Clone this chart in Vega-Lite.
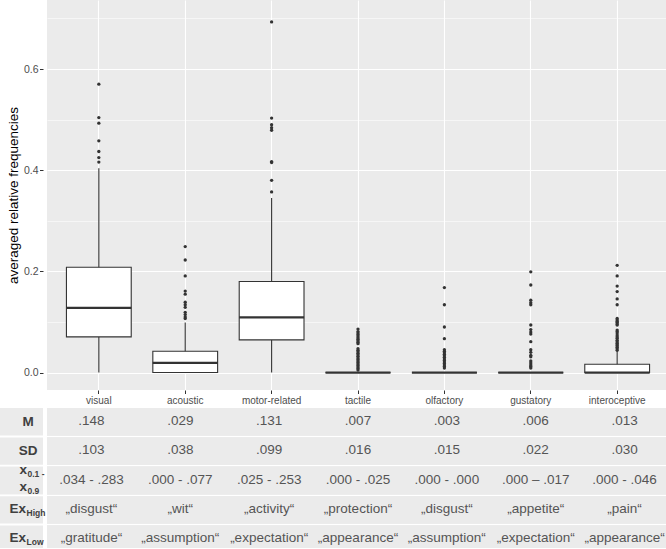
{
  "$schema": "https://vega.github.io/schema/vega-lite/v6.json",
  "padding": 0,
  "background": "white",
  "config": {"view": {"stroke": null}, "font": "Liberation Sans"},
  "datasets": {
    "stats": [
      {"category": "visual", "lo": 0, "q1": 0.0705, "med": 0.1277, "q3": 0.208, "hi": 0.404},
      {"category": "acoustic", "lo": 0, "q1": 0, "med": 0.019, "q3": 0.042, "hi": 0.099},
      {"category": "motor-related", "lo": 0, "q1": 0.0645, "med": 0.109, "q3": 0.18, "hi": 0.345},
      {"category": "tactile", "lo": 0, "q1": 0, "med": 0, "q3": 0, "hi": 0},
      {"category": "olfactory", "lo": 0, "q1": 0, "med": 0, "q3": 0, "hi": 0},
      {"category": "gustatory", "lo": 0, "q1": 0, "med": 0, "q3": 0, "hi": 0},
      {"category": "interoceptive", "lo": 0, "q1": 0, "med": 0, "q3": 0.0165, "hi": 0.042}
    ],
    "outliers": [
      {"category": "visual", "value": 0.57}, {"category": "visual", "value": 0.504}, {"category": "visual", "value": 0.493},
      {"category": "visual", "value": 0.458}, {"category": "visual", "value": 0.437}, {"category": "visual", "value": 0.425},
      {"category": "visual", "value": 0.416},
      {"category": "acoustic", "value": 0.249}, {"category": "acoustic", "value": 0.2225}, {"category": "acoustic", "value": 0.191},
      {"category": "acoustic", "value": 0.161}, {"category": "acoustic", "value": 0.155}, {"category": "acoustic", "value": 0.139},
      {"category": "acoustic", "value": 0.134}, {"category": "acoustic", "value": 0.129}, {"category": "acoustic", "value": 0.119},
      {"category": "acoustic", "value": 0.1145}, {"category": "acoustic", "value": 0.11}, {"category": "acoustic", "value": 0.1066},
      {"category": "motor-related", "value": 0.693}, {"category": "motor-related", "value": 0.503}, {"category": "motor-related", "value": 0.49},
      {"category": "motor-related", "value": 0.484}, {"category": "motor-related", "value": 0.479}, {"category": "motor-related", "value": 0.417},
      {"category": "motor-related", "value": 0.415}, {"category": "motor-related", "value": 0.38}, {"category": "motor-related", "value": 0.357},
      {"category": "tactile", "value": 0.086}, {"category": "tactile", "value": 0.081}, {"category": "tactile", "value": 0.078},
      {"category": "tactile", "value": 0.075}, {"category": "tactile", "value": 0.072}, {"category": "tactile", "value": 0.069},
      {"category": "tactile", "value": 0.066}, {"category": "tactile", "value": 0.063}, {"category": "tactile", "value": 0.06},
      {"category": "tactile", "value": 0.057}, {"category": "tactile", "value": 0.047}, {"category": "tactile", "value": 0.044},
      {"category": "tactile", "value": 0.041}, {"category": "tactile", "value": 0.038}, {"category": "tactile", "value": 0.035},
      {"category": "tactile", "value": 0.032}, {"category": "tactile", "value": 0.029}, {"category": "tactile", "value": 0.026},
      {"category": "tactile", "value": 0.023}, {"category": "tactile", "value": 0.02}, {"category": "tactile", "value": 0.017},
      {"category": "tactile", "value": 0.014}, {"category": "tactile", "value": 0.011}, {"category": "tactile", "value": 0.008},
      {"category": "tactile", "value": 0.005},
      {"category": "olfactory", "value": 0.168}, {"category": "olfactory", "value": 0.134}, {"category": "olfactory", "value": 0.09},
      {"category": "olfactory", "value": 0.067}, {"category": "olfactory", "value": 0.045}, {"category": "olfactory", "value": 0.042},
      {"category": "olfactory", "value": 0.039}, {"category": "olfactory", "value": 0.036}, {"category": "olfactory", "value": 0.033},
      {"category": "olfactory", "value": 0.03}, {"category": "olfactory", "value": 0.027}, {"category": "olfactory", "value": 0.024},
      {"category": "olfactory", "value": 0.021}, {"category": "olfactory", "value": 0.018}, {"category": "olfactory", "value": 0.015},
      {"category": "olfactory", "value": 0.012}, {"category": "olfactory", "value": 0.009},
      {"category": "gustatory", "value": 0.199}, {"category": "gustatory", "value": 0.173}, {"category": "gustatory", "value": 0.143},
      {"category": "gustatory", "value": 0.138}, {"category": "gustatory", "value": 0.134}, {"category": "gustatory", "value": 0.094},
      {"category": "gustatory", "value": 0.085}, {"category": "gustatory", "value": 0.08}, {"category": "gustatory", "value": 0.076},
      {"category": "gustatory", "value": 0.061}, {"category": "gustatory", "value": 0.045}, {"category": "gustatory", "value": 0.04},
      {"category": "gustatory", "value": 0.034}, {"category": "gustatory", "value": 0.031}, {"category": "gustatory", "value": 0.023},
      {"category": "gustatory", "value": 0.019}, {"category": "gustatory", "value": 0.015}, {"category": "gustatory", "value": 0.012},
      {"category": "gustatory", "value": 0.009},
      {"category": "interoceptive", "value": 0.212}, {"category": "interoceptive", "value": 0.191}, {"category": "interoceptive", "value": 0.171},
      {"category": "interoceptive", "value": 0.16}, {"category": "interoceptive", "value": 0.1455}, {"category": "interoceptive", "value": 0.134},
      {"category": "interoceptive", "value": 0.107}, {"category": "interoceptive", "value": 0.104}, {"category": "interoceptive", "value": 0.101},
      {"category": "interoceptive", "value": 0.099}, {"category": "interoceptive", "value": 0.096}, {"category": "interoceptive", "value": 0.094},
      {"category": "interoceptive", "value": 0.084}, {"category": "interoceptive", "value": 0.081}, {"category": "interoceptive", "value": 0.078},
      {"category": "interoceptive", "value": 0.074}, {"category": "interoceptive", "value": 0.071}, {"category": "interoceptive", "value": 0.068},
      {"category": "interoceptive", "value": 0.064}, {"category": "interoceptive", "value": 0.061}, {"category": "interoceptive", "value": 0.058},
      {"category": "interoceptive", "value": 0.055}, {"category": "interoceptive", "value": 0.053}, {"category": "interoceptive", "value": 0.05},
      {"category": "interoceptive", "value": 0.047}, {"category": "interoceptive", "value": 0.044}
    ],
    "table": [
      {"category": "visual", "M": ".148", "SD": ".103", "x": ".034 - .283", "ExHigh": "„disgust“", "ExLow": "„gratitude“"},
      {"category": "acoustic", "M": ".029", "SD": ".038", "x": ".000 - .077", "ExHigh": "„wit“", "ExLow": "„assumption“"},
      {"category": "motor-related", "M": ".131", "SD": ".099", "x": ".025 - .253", "ExHigh": "„activity“", "ExLow": "„expectation“"},
      {"category": "tactile", "M": ".007", "SD": ".016", "x": ".000 - .025", "ExHigh": "„protection“", "ExLow": "„appearance“"},
      {"category": "olfactory", "M": ".003", "SD": ".015", "x": ".000 - .000", "ExHigh": "„disgust“", "ExLow": "„assumption“"},
      {"category": "gustatory", "M": ".006", "SD": ".022", "x": ".000 – .017", "ExHigh": "„appetite“", "ExLow": "„expectation“"},
      {"category": "interoceptive", "M": ".013", "SD": ".030", "x": ".000 - .046", "ExHigh": "„pain“", "ExLow": "„appearance“"}
    ],
    "labels": [
      {"row": "M", "main": "M", "sub": "", "line": 0},
      {"row": "SD", "main": "SD", "sub": "", "line": 0},
      {"row": "x", "main": "x", "sub": "0.1 -", "line": 1},
      {"row": "x", "main": "x", "sub": "0.9", "line": 2},
      {"row": "ExHigh", "main": "Ex", "sub": "High", "line": 0},
      {"row": "ExLow", "main": "Ex", "sub": "Low", "line": 0}
    ]
  },
  "columns": 2,
  "align": "each",
  "spacing": {"row": 3, "column": 1},
  "concat": [
    {
      "width": 43,
      "height": 390,
      "data": {"name": "stats"},
      "mark": {"type": "point", "opacity": 0},
      "encoding": {
        "y": {
          "field": "hi", "type": "quantitative",
          "scale": {"domain": [-0.0345, 0.7364], "nice": false, "zero": false},
          "axis": {
            "orient": "left", "offset": -43,
            "title": "averaged relative frequencies", "titleFontSize": 13.5, "titleFontWeight": "normal",
            "titleColor": "black", "titleFont": "Liberation Sans", "titlePadding": 3,
            "values": [0, 0.2, 0.4, 0.6], "format": ".1f",
            "labelFontSize": 10.5, "labelColor": "#4D4D4D", "labelFont": "Liberation Sans", "labelPadding": 1.5,
            "tickColor": "#333333", "tickSize": 3.5, "tickWidth": 1,
            "domain": false, "grid": false
          }
        }
      }
    },
    {
      "width": 622,
      "height": 390,
      "view": {"fill": "#EBEBEB", "stroke": null},
      "encoding": {
        "x": {
          "field": "category", "type": "nominal",
          "scale": {"domain": ["visual", "acoustic", "motor-related", "tactile", "olfactory", "gustatory", "interoceptive"], "paddingInner": 0, "paddingOuter": 0.1},
          "axis": {
            "title": null, "labelAngle": 0, "labelFontSize": 10, "labelColor": "#4D4D4D", "labelFont": "Liberation Sans",
            "tickColor": "#333333", "tickSize": 3.5, "tickWidth": 1, "labelPadding": 1.5,
            "domain": false, "grid": true, "gridColor": "white", "gridWidth": 1.1, "bandPosition": 0.5
          }
        }
      },
      "layer": [
        {
          "data": {"name": "stats"},
          "mark": {"type": "rule", "color": "#333333", "strokeWidth": 1.1},
          "encoding": {
            "y": {
              "field": "lo", "type": "quantitative", "title": null,
              "scale": {"domain": [-0.0345, 0.7364], "nice": false, "zero": false},
              "axis": {
                "title": null, "values": [0, 0.1, 0.2, 0.3, 0.4, 0.5, 0.6, 0.7],
                "labels": false, "ticks": false, "domain": false, "grid": true, "gridColor": "white",
                "gridWidth": {"condition": {"test": "round(datum.value*10) % 2 === 1", "value": 0.55}, "value": 1.1}
              }
            },
            "y2": {"field": "hi"}
          }
        },
        {
          "data": {"name": "stats"},
          "mark": {"type": "bar", "fill": "white", "stroke": "#333333", "strokeWidth": 1.1, "width": {"band": 0.75}},
          "encoding": {
            "y": {"field": "q1", "type": "quantitative", "title": null},
            "y2": {"field": "q3"}
          }
        },
        {
          "data": {"name": "stats"},
          "mark": {"type": "tick", "color": "#333333", "thickness": 2.2, "size": 65, "opacity": 1},
          "encoding": {
            "y": {"field": "med", "type": "quantitative", "title": null}
          }
        },
        {
          "data": {"name": "outliers"},
          "mark": {"type": "point", "filled": true, "color": "#333333", "size": 11, "opacity": 1},
          "encoding": {
            "y": {"field": "value", "type": "quantitative", "title": null}
          }
        }
      ]
    },
    {
      "width": 43,
      "height": 140,
      "data": {"name": "labels"},
      "encoding": {
        "y": {
          "field": "row", "type": "nominal",
          "scale": {"domain": ["M", "SD", "x", "ExHigh", "ExLow"], "range": [0, 145], "paddingInner": 0.0667, "paddingOuter": 0},
          "axis": null
        }
      },
      "layer": [
        {"mark": {"type": "rect", "color": "#EBEBEB", "clip": true}},
        {
          "transform": [{"filter": "datum.sub === ''"}],
          "mark": {"type": "text", "fontWeight": "bold", "fontSize": 13.5, "color": "#404040", "align": "center", "baseline": "middle", "dx": 6.5},
          "encoding": {"text": {"field": "main"}}
        },
        {
          "transform": [{"filter": "datum.line === 0 && datum.sub !== ''"}],
          "mark": {"type": "text", "fontWeight": "bold", "fontSize": 13.5, "color": "#404040", "align": "right", "baseline": "middle", "dx": 4.5, "dy": -1},
          "encoding": {"text": {"field": "main"}}
        },
        {
          "transform": [{"filter": "datum.line === 0 && datum.sub !== ''"}],
          "mark": {"type": "text", "fontWeight": "bold", "fontSize": 8.5, "color": "#404040", "align": "left", "baseline": "middle", "dx": 5, "dy": 3},
          "encoding": {"text": {"field": "sub"}}
        },
        {
          "transform": [{"filter": "datum.line === 1"}],
          "mark": {"type": "text", "fontWeight": "bold", "fontSize": 13.5, "color": "#404040", "align": "right", "baseline": "middle", "dx": 5.5, "dy": -11},
          "encoding": {"text": {"field": "main"}}
        },
        {
          "transform": [{"filter": "datum.line === 1"}],
          "mark": {"type": "text", "fontWeight": "bold", "fontSize": 8.5, "color": "#404040", "align": "left", "baseline": "middle", "dx": 6, "dy": -7},
          "encoding": {"text": {"field": "sub"}}
        },
        {
          "transform": [{"filter": "datum.line === 2"}],
          "mark": {"type": "text", "fontWeight": "bold", "fontSize": 13.5, "color": "#404040", "align": "right", "baseline": "middle", "dx": 5.5, "dy": 6},
          "encoding": {"text": {"field": "main"}}
        },
        {
          "transform": [{"filter": "datum.line === 2"}],
          "mark": {"type": "text", "fontWeight": "bold", "fontSize": 8.5, "color": "#404040", "align": "left", "baseline": "middle", "dx": 6, "dy": 10},
          "encoding": {"text": {"field": "sub"}}
        }
      ]
    },
    {
      "width": 622,
      "height": 140,
      "data": {"name": "table"},
      "transform": [{"fold": ["M", "SD", "x", "ExHigh", "ExLow"], "as": ["row", "text"]}],
      "encoding": {
        "y": {
          "field": "row", "type": "nominal",
          "scale": {"domain": ["M", "SD", "x", "ExHigh", "ExLow"], "range": [0, 145], "paddingInner": 0.0667, "paddingOuter": 0},
          "axis": null
        }
      },
      "layer": [
        {"mark": {"type": "rect", "color": "#EBEBEB", "clip": true}},
        {
          "mark": {"type": "text", "fontSize": 13.5, "color": "#555555", "font": "Liberation Sans", "baseline": "middle", "dy": -1},
          "encoding": {
            "x": {
              "field": "category", "type": "nominal",
              "scale": {"domain": ["visual", "acoustic", "motor-related", "tactile", "olfactory", "gustatory", "interoceptive"], "paddingInner": 0, "paddingOuter": 0.1},
              "axis": null
            },
            "text": {"field": "text"}
          }
        }
      ]
    }
  ]
}
